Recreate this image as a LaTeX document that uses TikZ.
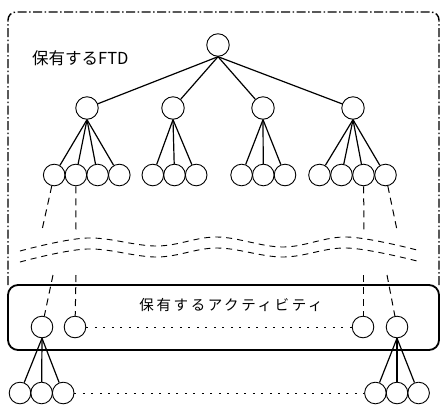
\documentclass[tikz,border=0pt]{standalone}
\usepackage{fontspec}
\newfontfamily\jp{Noto Sans CJK JP}
\begin{document}
\begin{tikzpicture}[x=1pt,y=-1pt,
  nd/.style={circle,draw,line width=0.9pt,minimum size=22.5pt,inner sep=0pt},
  ndsm/.style={circle,draw,line width=0.9pt,minimum size=21.6pt,inner sep=0pt},
  tedge/.style={line width=1.2pt},
  dashlink/.style={line width=1pt,dash pattern=on 7pt off 5pt},
  wavy/.style={line width=0.9pt,dash pattern=on 6pt off 5pt},
  dotlink/.style={line width=1pt,dash pattern=on 2pt off 6.5pt},
  outerbox/.style={line width=1.4pt,dash pattern=on 9pt off 2.5pt on 1.5pt off 2.5pt,rounded corners=8pt},
  actbox/.style={line width=1.8pt,rounded corners=10pt},
  lbl/.style={font=\jp\fontsize{16.5}{18}\selectfont,anchor=west,inner sep=0pt}]
\useasboundingbox (0,0) rectangle (441,405);
% outer dash-dot frame
\draw[outerbox] (8,285) -- (8,12) -- (439,12) -- (439,285);
% activity box
\draw[actbox] (8,285) rectangle (439,350);
% labels
\node[lbl] (t1) at (32,58) {保有するFTD};
\node[font=\jp\fontsize{14.5}{16}\selectfont\addfontfeature{LetterSpace=18},inner sep=0pt] (t2) at (231,305) {保有するアクティビティ};
% tree
\node[nd] (r) at (218,45) {};
\node[nd] (p1) at (87,108) {};
\node[nd] (p2) at (173,108) {};
\node[nd] (p3) at (263,108) {};
\node[nd] (p4) at (353,108) {};
\foreach \p in {p1,p2,p3,p4} \draw[tedge] (r.south) -- (\p);
% level 3
\node[ndsm] (g11) at (54.2,175) {};
\node[ndsm] (g12) at (75.9,175) {};
\node[ndsm] (g13) at (97.6,175) {};
\node[ndsm] (g14) at (119.3,175) {};
\node[ndsm] (g21) at (152.8,175) {};
\node[ndsm] (g22) at (174.5,175) {};
\node[ndsm] (g23) at (196.2,175) {};
\node[ndsm] (g31) at (241.6,175) {};
\node[ndsm] (g32) at (263.3,175) {};
\node[ndsm] (g33) at (285.0,175) {};
\node[ndsm] (g41) at (319.5,175) {};
\node[ndsm] (g42) at (341.5,175) {};
\node[ndsm] (g43) at (363.5,175) {};
\node[ndsm] (g44) at (385.5,175) {};
\foreach \c in {g11,g12,g13,g14} \draw[tedge] (p1.south) -- (\c);
\foreach \c in {g21,g22,g23} \draw[tedge] (p2.south) -- (\c);
\foreach \c in {g31,g32,g33} \draw[tedge] (p3.south) -- (\c);
\foreach \c in {g41,g42,g43,g44} \draw[tedge] (p4.south) -- (\c);
% dashed links above wave
\coordinate (u1) at (42,230);
\coordinate (u2) at (76,230);
\coordinate (u3) at (364,230);
\coordinate (u4) at (397,230);
\draw[dashlink] (g11) -- (u1);
\draw[dashlink] (g12) -- (u2);
\draw[dashlink] (g43) -- (u3);
\draw[dashlink] (g44) -- (u4);
% wavy break lines
\draw[wavy] plot[smooth,tension=0.6] coordinates {(20,251) (87,238) (157,246) (217,237) (283,247) (347,237) (417,250)};
\draw[wavy] plot[smooth,tension=0.6] coordinates {(20,262) (87,249) (157,257) (217,248) (283,257) (347,248) (417,261)};
% activity nodes
\node[ndsm] (a1) at (42,327) {};
\node[ndsm] (a2) at (75,327) {};
\node[ndsm] (a3) at (363,327) {};
\node[ndsm] (a4) at (397,327) {};
\coordinate (v1) at (53,275);
\coordinate (v2) at (76,275);
\coordinate (v3) at (363,275);
\coordinate (v4) at (387,275);
\draw[dashlink] (v1) -- (a1);
\draw[dashlink] (v2) -- (a2);
\draw[dashlink] (v3) -- (a3);
\draw[dashlink] (v4) -- (a4);
\draw[dotlink] (a2) -- (a3);
% bottom children
\node[ndsm] (b1) at (20,393) {};
\node[ndsm] (b2) at (41.6,393) {};
\node[ndsm] (b3) at (63.2,393) {};
\node[ndsm] (b4) at (375.4,393) {};
\node[ndsm] (b5) at (397,393) {};
\node[ndsm] (b6) at (418.6,393) {};
\foreach \c in {b1,b2,b3} \draw[tedge] (a1.south) -- (\c);
\foreach \c in {b4,b5,b6} \draw[tedge] (a4.south) -- (\c);
\draw[dotlink] (b3) -- (b4);
\end{tikzpicture}
\end{document}
